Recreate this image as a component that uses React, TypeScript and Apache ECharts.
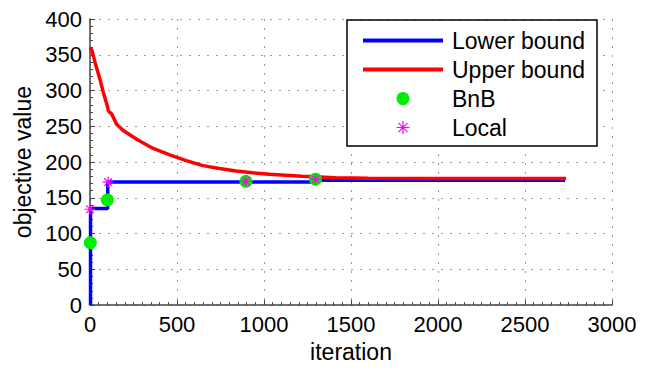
import React, { useEffect, useRef } from "react";
import * as echarts from "echarts";

const xTicks = { min: 0, max: 3000, interval: 500 };
const yTicks = { min: 0, max: 400, interval: 50 };

const lowerBound: [number, number][] = [
  [3, 0], [3, 135], [102, 135], [102, 172], [1296, 172], [1296, 174.5], [2730, 174.5],
];

const upperBound: [number, number][] = [
  [0, 360], [10, 357], [30, 338.5], [58, 315], [77, 297], [100, 278], [106, 271.5],
  [125, 267], [153, 253], [191, 244], [268, 232], [363, 219], [458, 210],
  [553, 202], [649, 195], [744, 191], [839, 187.5], [934, 185], [1030, 183],
  [1125, 181.5], [1220, 180], [1315, 179], [1411, 178], [1600, 177.5],
  [2000, 177], [2736, 177],
];

const bnb: [number, number][] = [
  [2, 87], [100, 147], [896, 173], [1296, 176],
];

const local: [number, number][] = [
  [0, 134], [104, 172], [896, 173], [1296, 176],
];

const seriesNames = ["Lower bound", "Upper bound", "BnB", "Local"];

const STAR = "path://M0,-1L0,1M-1,0L1,0M-0.7,-0.7L0.7,0.7M-0.7,0.7L0.7,-0.7";
const LINE_ICON = "path://M0,0L80,0L80,4L0,4Z";
const FONT = "Liberation Sans";

export default function App() {
  const ref = useRef<HTMLDivElement>(null);
  useEffect(() => {
    if (!ref.current) return;
    const chart = echarts.init(ref.current, null, { renderer: "svg" });
    const axisLine = { show: true, lineStyle: { color: "#444", width: 1.5 } };
    const split = { show: true, lineStyle: { color: "#999", type: [2, 7] as any, width: 1 } };
    chart.setOption({
      animation: false,
      backgroundColor: "#fff",
      textStyle: { fontFamily: FONT },
      grid: { left: 90, right: 38, top: 19, bottom: 61, containLabel: false },
      xAxis: {
        type: "value",
        min: xTicks.min,
        max: xTicks.max,
        interval: xTicks.interval,
        name: "iteration",
        nameLocation: "middle",
        nameGap: 32,
        nameTextStyle: { fontSize: 23, color: "#000", fontFamily: FONT },
        axisLine,
        axisTick: { show: true, inside: true, length: 5, lineStyle: { color: "#444" } },
        minorTick: { show: true, splitNumber: 10, length: 3, lineStyle: { color: "#444" } },
        axisLabel: {
          fontSize: 22, color: "#000", margin: 8, fontFamily: FONT,
          formatter: (v: number) => String(v),
        },
        splitLine: split,
      },
      yAxis: {
        type: "value",
        min: yTicks.min,
        max: yTicks.max,
        interval: yTicks.interval,
        name: "objective value",
        nameLocation: "middle",
        nameGap: 44,
        nameTextStyle: { fontSize: 23, color: "#000", fontFamily: FONT },
        axisLine,
        axisTick: { show: true, inside: true, length: 5, lineStyle: { color: "#444" } },
        minorTick: { show: true, splitNumber: 5, length: 3, lineStyle: { color: "#444" } },
        axisLabel: { fontSize: 22, color: "#000", margin: 8, fontFamily: FONT },
        splitLine: split,
      },
      legend: {
        orient: "vertical",
        left: 347,
        top: 20,
        padding: [9, 12, 7, 16],
        itemGap: 6,
        itemWidth: 80,
        itemHeight: 13,
        backgroundColor: "#fff",
        borderColor: "#000",
        borderWidth: 1.5,
        borderRadius: 0,
        textStyle: { fontSize: 23, color: "#000", fontFamily: FONT, padding: [0, 0, 0, 4] },
        data: [
          { name: seriesNames[0], icon: LINE_ICON, itemStyle: { color: "#0000ff" } },
          { name: seriesNames[1], icon: LINE_ICON, itemStyle: { color: "#ff0000" } },
          { name: seriesNames[2] },
          { name: seriesNames[3], itemStyle: { borderColor: "#ff00ff", borderWidth: 1.2 } },
        ],
      },
      series: [
        {
          name: seriesNames[0],
          type: "line",
          data: lowerBound,
          symbol: "none",
          lineStyle: { color: "#0000ff", width: 3.5 },
          itemStyle: { color: "#0000ff" },
          z: 2,
        },
        {
          name: seriesNames[1],
          type: "line",
          data: upperBound,
          symbol: "none",
          lineStyle: { color: "#ff0000", width: 3.5 },
          itemStyle: { color: "#ff0000" },
          z: 3,
        },
        {
          name: seriesNames[2],
          type: "scatter",
          data: bnb,
          symbol: "circle",
          symbolSize: 13,
          itemStyle: { color: "#00ee00", opacity: 1 },
          z: 4,
        },
        {
          name: seriesNames[3],
          type: "scatter",
          data: local,
          symbol: STAR,
          symbolSize: 11,
          itemStyle: { color: "#ff00ff", borderColor: "#ff00ff", borderWidth: 1.2, opacity: 1 },
          z: 5,
        },
      ],
    });
    return () => chart.dispose();
  }, []);
  return <div ref={ref} style={{ width: 650, height: 368, position: "absolute", left: 0, top: 0 }} />;
}
